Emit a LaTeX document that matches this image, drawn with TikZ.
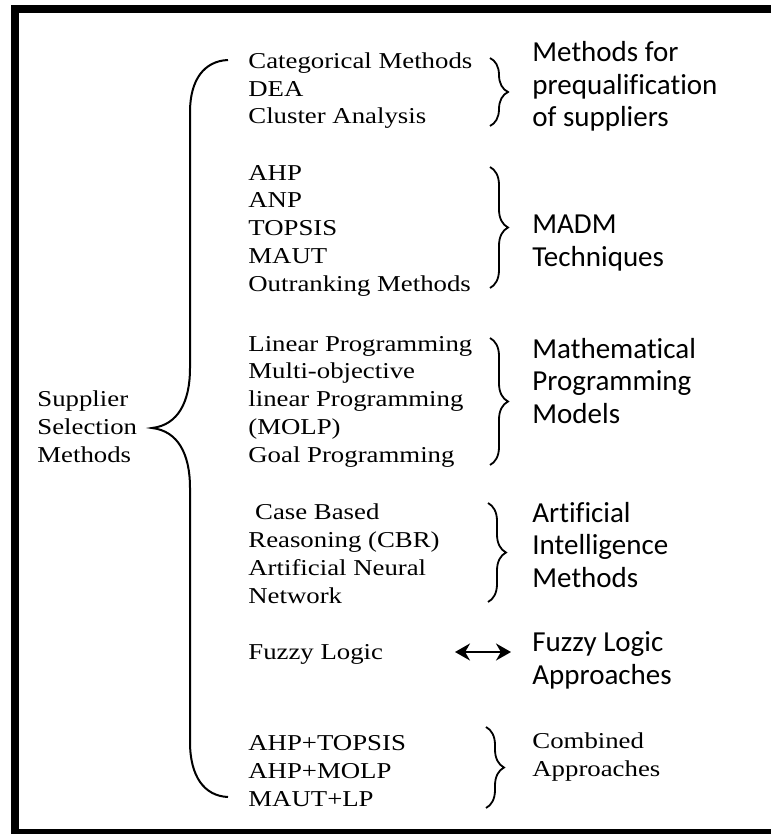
\documentclass[tikz,border=0pt]{standalone}
\usepackage{fontspec}
\setmainfont{Liberation Serif}[FakeStretch=1.18]
\newfontfamily\catfont{Carlito}[Ligatures=NoCommon]
\usetikzlibrary{arrows.meta,decorations.pathreplacing}

\begin{document}
\begin{tikzpicture}[
    x=0.5pt, y=-0.5pt,
    item/.style={anchor=base west, inner sep=0pt, align=left,
                 font=\fontsize{11.35pt}{13.85pt}\selectfont},
    cat/.style={anchor=base west, inner sep=0pt, align=left,
                font=\catfont\fontsize{14.5pt}{16.25pt}\selectfont},
    curly/.style={decorate, decoration={brace, amplitude=9pt}, line width=0.9pt},
    dblarr/.style={{Stealth[length=7.5pt,width=8.5pt]}-{Stealth[length=7.5pt,width=8.5pt]},
                   line width=1pt}
]
    \fill[white] (0,0) rectangle (771,834);
    \useasboundingbox (0,0) rectangle (771,834);
    % frame, cut off at the right and bottom edges
    \draw[line width=4pt] (771,9) -- (15,9) -- (15,833) -- (771,833);

    % base anchor = baseline of the last line
    \node[item] (root) at (37,462) {Supplier\\Selection\\Methods};

    \node[item] (prequal) at (248,124) {Categorical Methods\\DEA\\Cluster Analysis};
    \node[item] (madm) at (248,291) {AHP\\ANP\\TOPSIS\\MAUT\\Outranking Methods};
    \node[item] (mathprog) at (248,462) {Linear Programming\\Multi-objective\\linear Programming\\(MOLP)\\Goal Programming};
    \node[item] (aimeth) at (248,603) {\hspace*{3.4pt}Case Based\\Reasoning (CBR)\\Artificial Neural\\Network};
    \node[item] (fuzzy) at (248,659) {Fuzzy Logic};
    \node[item] (comb) at (248,806) {AHP+TOPSIS\\AHP+MOLP\\MAUT+LP};

    \node[cat] (prequalcat) at (532,127) {Methods for\\prequalification\\of suppliers};
    \node[cat] (madmcat) at (532,266) {MADM\\Techniques};
    \node[cat] (mathprogcat) at (532,423) {Mathematical\\Programming\\Models};
    \node[cat] (aimethcat) at (532,587) {Artificial\\Intelligence\\Methods};
    \node[cat] (fuzzycat) at (532,684) {Fuzzy Logic\\Approaches};
    \node[item] (combcat) at (532,776) {Combined\\Approaches};

    % big brace
    \coordinate (btop) at (228,60);
    \coordinate (btip) at (152,428);
    \coordinate (bbot) at (228,797);
    \draw[line width=1pt] (btop) .. controls (204,61) and (190,80) .. (190,112)
        -- (190,368) .. controls (190,402) and (178,425) .. (btip)
        .. controls (178,431) and (190,454) .. (190,488)
        -- (190,742) .. controls (190,776) and (204,796) .. (bbot);

    % small braces
    \coordinate (p1) at (490,58);   \coordinate (p2) at (490,126);
    \coordinate (m1) at (490,167);  \coordinate (m2) at (490,288);
    \coordinate (q1) at (490,338);  \coordinate (q2) at (490,465);
    \coordinate (a1) at (488,503);  \coordinate (a2) at (488,602);
    \coordinate (c1) at (486,727);  \coordinate (c2) at (486,808);
    \draw[curly] (p1) -- (p2);
    \draw[curly] (m1) -- (m2);
    \draw[curly] (q1) -- (q2);
    \draw[curly] (a1) -- (a2);
    \draw[curly] (c1) -- (c2);

    \coordinate (fl) at (455,652);
    \coordinate (fr) at (511,652);
    \draw[dblarr] (fl) -- (fr);
\end{tikzpicture}
\end{document}
